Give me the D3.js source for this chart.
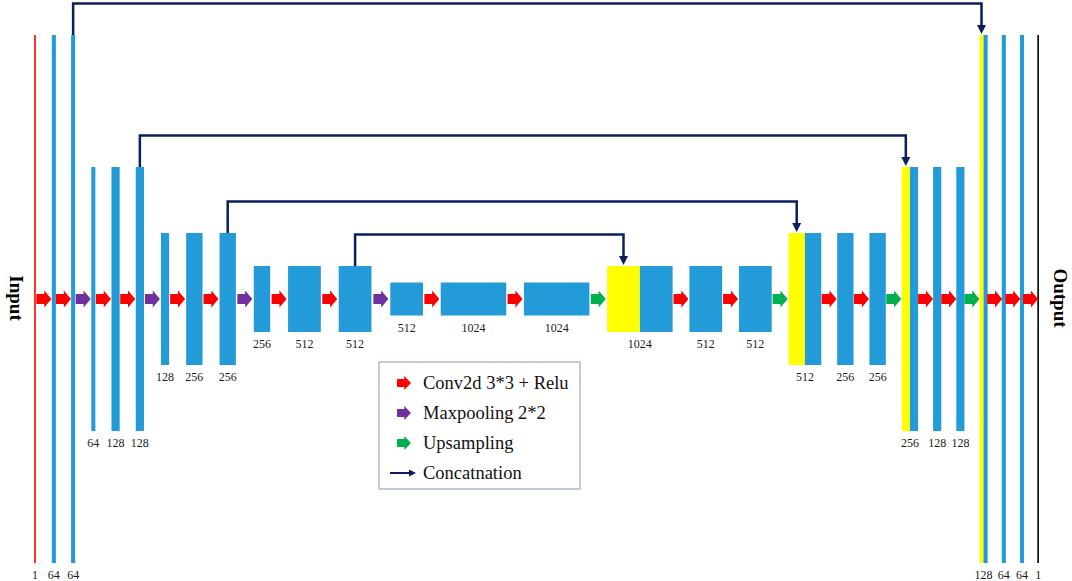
<!DOCTYPE html>
<html>
<head>
<meta charset="utf-8">
<script src="https://cdn.jsdelivr.net/npm/d3@7"></script>
<style>
  body { margin: 0; background: #fff; }
  svg { display: block; font-family: "Liberation Serif", "DejaVu Serif", serif; }
</style>
</head>
<body>
<div id="chart"></div>
<script>
// blocks of the U-Net, left to right
var channels = [1, 64, 64, 64, 128, 128, 128, 256, 256, 256, 512, 512, 512, 1024, 1024,
                1024, 512, 512, 512, 256, 256, 256, 128, 128, 128, 64, 64, 1];
var levels   = [1, 1, 1, 2, 2, 2, 3, 3, 3, 4, 4, 4, 5, 5, 5,
                4, 4, 4, 3, 3, 3, 2, 2, 2, 1, 1, 1, 1];
var kinds    = ["input", "feat", "feat", "feat", "feat", "feat", "feat", "feat", "feat", "feat", "feat", "feat", "feat", "feat", "feat",
                "concat", "feat", "feat", "concat", "feat", "feat", "concat", "feat", "feat", "concat", "feat", "feat", "output"];
// operation between block i and i+1
var ops = ["conv", "conv", "pool", "conv", "conv", "pool", "conv", "conv", "pool", "conv", "conv", "pool", "conv", "conv",
           "up", "conv", "conv", "up", "conv", "conv", "up", "conv", "conv", "up", "conv", "conv", "conv"];
// skip connections: [from block, to block]
var skips = [[2, 24], [5, 21], [8, 18], [11, 15]];
var legendKeys   = ["conv", "pool", "up", "concat"];
var legendLabels = ["Conv2d 3*3 + Relu", "Maxpooling 2*2", "Upsampling", "Concatnation"];

var width = 1072, height = 581;
var colors = {conv: "#ff0000", pool: "#7030a0", up: "#00b050", concat: "#0b1f5e",
              feat: "#239bd8", copy: "#ffff00", input: "#ff0000", output: "#000000"};

var svg = d3.select("#chart").append("svg")
    .attr("width", width)
    .attr("height", height);

// scales: width ~ channels, height ~ spatial size (halves every level)
var wScale = d3.scaleLinear().domain([0, 1024]).range([0, 65.5]);
var hScale = d3.scaleLinear().domain([0, 1]).range([0, 528]);
var midY = 299;

// spacing grows a little with depth; decoder is packed tighter
var startX = 35, gapStep = 0.9, baseDown = 14.3, baseUp = 13.2;
var blocks = [];
var x = startX;
channels.forEach(function(c, i) {
    var w = (kinds[i] == "input" || kinds[i] == "output") ? 1.6 : wScale(c);
    var h = hScale(1 / Math.pow(2, levels[i] - 1));
    blocks.push({i: i, c: c, kind: kinds[i], x: x, w: w, h: h, top: midY - h / 2, bottom: midY + h / 2});
    if (i < channels.length - 1) {
        var lv = Math.max(levels[i], levels[i + 1]);
        x += w + (i < 12 ? baseDown : baseUp) + gapStep * lv;
    }
});

// feature maps
var g = svg.append("g");
blocks.forEach(function(b) {
    if (b.kind == "input" || b.kind == "output") {
        g.append("rect").attr("x", b.x - 0.8).attr("y", b.top).attr("width", b.w).attr("height", b.h)
            .attr("fill", colors[b.kind]);
    } else if (b.kind == "concat") {
        g.append("rect").attr("x", b.x).attr("y", b.top).attr("width", b.w / 2).attr("height", b.h)
            .attr("fill", colors.copy);
        g.append("rect").attr("x", b.x + b.w / 2).attr("y", b.top).attr("width", b.w / 2).attr("height", b.h)
            .attr("fill", colors.feat);
    } else {
        g.append("rect").attr("x", b.x).attr("y", b.top).attr("width", b.w).attr("height", b.h)
            .attr("fill", colors.feat);
    }
});

// channel labels
svg.append("g").selectAll("text")
    .data(blocks)
    .enter().append("text")
    .attr("x", function(d) { return (d.kind == "input" || d.kind == "output") ? d.x : d.x + d.w / 2; })
    .attr("y", function(d) { return d.bottom + 16; })
    .attr("text-anchor", "middle")
    .attr("font-size", 12)
    .attr("fill", "#1a1a1a")
    .text(function(d) { return d.c; });

// block arrow shape centred at 0
function arrowPath(len, bodyH, headH) {
    var hl = len / 2, neck = hl - len * 0.48;
    return "M" + (-hl) + "," + (-bodyH / 2) + "L" + neck + "," + (-bodyH / 2) + "L" + neck + "," + (-headH / 2) +
           "L" + hl + ",0L" + neck + "," + (headH / 2) + "L" + neck + "," + (bodyH / 2) + "L" + (-hl) + "," + (bodyH / 2) + "Z";
}

svg.append("g").selectAll("path")
    .data(ops)
    .enter().append("path")
    .attr("d", arrowPath(15, 10, 17))
    .attr("fill", function(d) { return colors[d]; })
    .attr("transform", function(d, i) {
        var a = blocks[i], b = blocks[i + 1];
        var cx = (a.x + a.w + b.x) / 2;
        if (a.kind == "input") cx = (a.x + b.x) / 2 + 0.5;
        if (b.kind == "output") cx = (a.x + a.w + b.x) / 2 - 0.5;
        return "translate(" + cx + "," + midY + ")";
    });

// skip connections
var sk = svg.append("g");
skips.forEach(function(s) {
    var a = blocks[s[0]], b = blocks[s[1]];
    var sx = a.x + a.w / 2, tx = b.x + b.w / 4;
    var yLine = a.top - 31.5;
    sk.append("path")
        .attr("d", d3.line()([[sx, a.top], [sx, yLine], [tx, yLine], [tx, b.top - 8]]))
        .attr("fill", "none")
        .attr("stroke", colors.concat)
        .attr("stroke-width", 2.5);
    sk.append("path")
        .attr("d", "M" + (tx - 4.5) + "," + (b.top - 10) + "L" + (tx + 4.5) + "," + (b.top - 10) + "L" + tx + "," + (b.top - 1) + "Z")
        .attr("fill", colors.concat);
});

// side titles
svg.append("text")
    .attr("transform", "translate(10,298) rotate(90)")
    .attr("text-anchor", "middle")
    .attr("font-size", 19)
    .attr("font-weight", "bold")
    .text("Input");
svg.append("text")
    .attr("transform", "translate(1054,298) rotate(90)")
    .attr("text-anchor", "middle")
    .attr("font-size", 19)
    .attr("font-weight", "bold")
    .text("Output");

// legend
var legend = svg.append("g").attr("transform", "translate(379,362)");
legend.append("rect")
    .attr("x", 0).attr("y", 0).attr("width", 201).attr("height", 127)
    .attr("fill", "#fff")
    .attr("stroke", "#9fb3c0")
    .attr("stroke-width", 1.3);
var yRow = d3.scalePoint().domain(legendKeys).range([21, 111]);
legendKeys.forEach(function(k, i) {
    var row = legend.append("g").attr("transform", "translate(0," + yRow(k) + ")");
    if (k == "concat") {
        row.append("line").attr("x1", 11).attr("x2", 32).attr("y1", 0).attr("y2", 0)
            .attr("stroke", colors.concat).attr("stroke-width", 2);
        row.append("path").attr("d", "M30,-3.5L37,0L30,3.5Z").attr("fill", colors.concat);
    } else {
        row.append("path").attr("d", arrowPath(14, 8, 14))
            .attr("transform", "translate(25,0)")
            .attr("fill", colors[k]);
    }
    row.append("text")
        .attr("x", 44).attr("y", 6)
        .attr("font-size", 18.5)
        .attr("fill", "#111")
        .text(legendLabels[i]);
});
</script>
</body>
</html>
